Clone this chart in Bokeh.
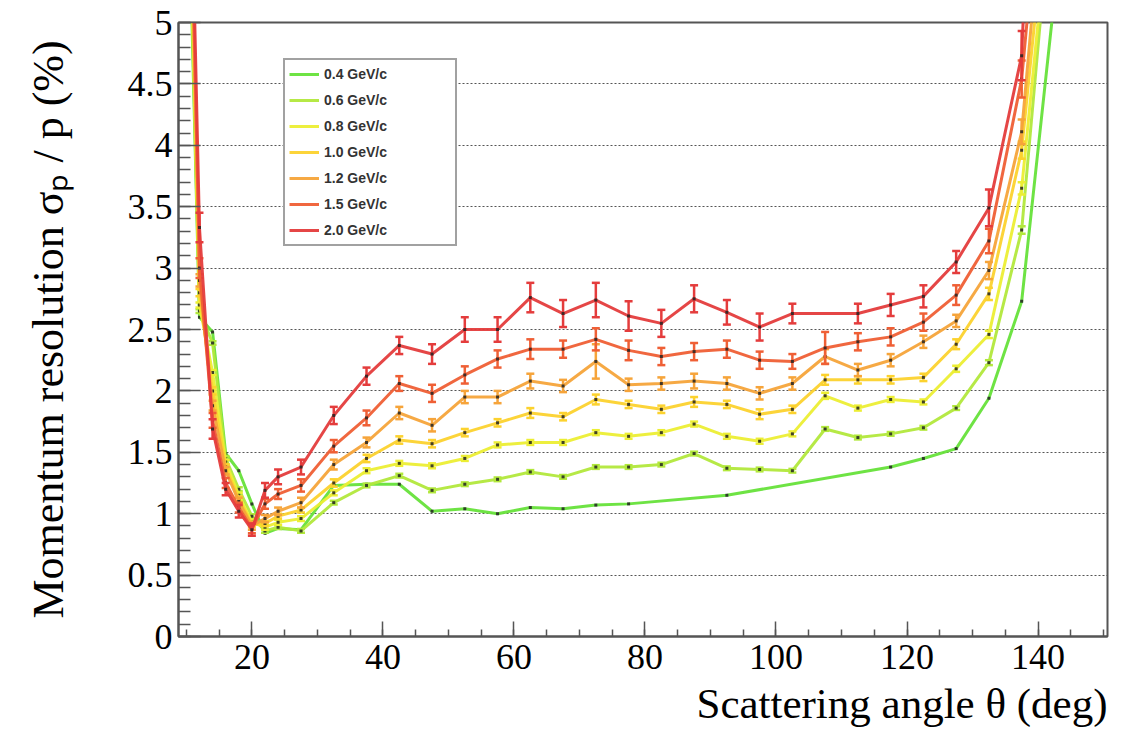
from bokeh.plotting import figure
from bokeh.models import (FixedTicker, Legend, LegendItem, Title, ColumnDataSource, Range1d)
from bokeh.embed import file_html
from bokeh.resources import INLINE

# ---------------- data ----------------
angles = [10, 12, 14, 16, 18, 20, 22, 24, 27.5, 32.5, 37.5, 42.5, 47.5, 52.5, 57.5,
          62.5, 67.5, 72.5, 77.5, 82.5, 87.5, 92.5, 97.5, 102.5, 107.5, 112.5, 117.5,
          122.5, 127.5, 132.5, 137.5, 142.5]

res_04 = [6.8, 2.60, 2.48, 1.49, 1.35, 1.08, 0.84, 0.88, 0.87, 1.23, 1.24, 1.24, 1.02, 1.04, 1.00,
          1.05, 1.04, 1.07, 1.08, None, None, 1.15, None, None, None, None, 1.38,
          1.45, 1.53, 1.94, 2.73, 5.2]
res_06 = [7.0, 2.65, 2.39, 1.45, 1.20, 0.98, 0.86, 0.89, 0.86, 1.09, 1.23, 1.31, 1.19, 1.24, 1.28,
          1.34, 1.30, 1.38, 1.38, 1.40, 1.49, 1.37, 1.36, 1.35, 1.69, 1.62, 1.65,
          1.70, 1.86, 2.23, 3.31, 6.3]
res_08 = [7.2, 2.70, 2.15, 1.42, 1.15, 0.93, 0.89, 0.93, 0.96, 1.17, 1.35, 1.41, 1.39, 1.45, 1.56,
          1.58, 1.58, 1.66, 1.63, 1.66, 1.73, 1.63, 1.59, 1.65, 1.96, 1.86, 1.93,
          1.91, 2.18, 2.46, 3.65, 6.35]
res_10 = [7.4, 2.80, 2.00, 1.38, 1.12, 0.91, 0.92, 0.98, 1.03, 1.25, 1.45, 1.60, 1.57, 1.66, 1.74,
          1.82, 1.79, 1.93, 1.89, 1.85, 1.91, 1.89, 1.81, 1.85, 2.09, 2.09, 2.09,
          2.11, 2.38, 2.79, 3.96, 6.6]
res_12 = [7.6, 2.90, 1.88, 1.35, 1.10, 0.90, 0.96, 1.02, 1.09, 1.40, 1.58, 1.82, 1.72, 1.95, 1.95,
          2.08, 2.04, 2.24, 2.05, 2.06, 2.08, 2.06, 1.98, 2.06, 2.28, 2.17, 2.25,
          2.40, 2.57, 2.98, 4.11, 7.1]
res_15 = [7.8, 3.00, 1.76, 1.25, 1.05, 0.88, 1.08, 1.16, 1.23, 1.55, 1.78, 2.06, 1.98, 2.13, 2.26,
          2.34, 2.34, 2.42, 2.33, 2.28, 2.32, 2.34, 2.25, 2.24, 2.35, 2.40, 2.44,
          2.56, 2.78, 3.22, 4.54, 7.4]
res_20 = [8.0, 3.33, 1.69, 1.20, 1.02, 0.87, 1.19, 1.30, 1.38, 1.80, 2.12, 2.37, 2.30, 2.50, 2.50,
          2.76, 2.63, 2.74, 2.61, 2.55, 2.75, 2.64, 2.52, 2.63, None, 2.63, 2.70,
          2.77, 3.05, 3.49, 4.73, 11.0]

err_04 = [0, 0, 0, 0, 0, 0, 0, 0, 0, 0, 0, 0, 0, 0, 0,
          0, 0, 0, 0, 0, 0, 0, 0, 0, 0, 0, 0,
          0, 0, 0, 0, 0]
err_06 = [0.015, 0.015, 0.015, 0.015, 0.015, 0.015, 0.015, 0.015, 0.015, 0.015, 0.015, 0.015, 0.015, 0.015, 0.015,
          0.015, 0.015, 0.015, 0.015, 0.015, 0.015, 0.015, 0.015, 0.015, 0.015, 0.015, 0.015,
          0.015, 0.015, 0.02, 0.03, 0.03]
err_08 = [0.02, 0.02, 0.02, 0.02, 0.02, 0.02, 0.02, 0.02, 0.02, 0.02, 0.02, 0.02, 0.02, 0.02, 0.02,
          0.02, 0.02, 0.02, 0.02, 0.02, 0.02, 0.02, 0.02, 0.02, 0.025, 0.02, 0.02,
          0.02, 0.025, 0.03, 0.05, 0.05]
err_10 = [0.05, 0.03, 0.03, 0.02, 0.02, 0.02, 0.02, 0.02, 0.02, 0.03, 0.03, 0.03, 0.03, 0.03, 0.03,
          0.04, 0.03, 0.04, 0.03, 0.03, 0.04, 0.03, 0.04, 0.03, 0.04, 0.03, 0.03,
          0.03, 0.04, 0.05, 0.07, 0.07]
err_12 = [0.1, 0.05, 0.04, 0.03, 0.03, 0.03, 0.03, 0.03, 0.04, 0.04, 0.04, 0.05, 0.05, 0.05, 0.05,
          0.06, 0.05, 0.14, 0.05, 0.05, 0.06, 0.05, 0.05, 0.05, 0.06, 0.05, 0.05,
          0.05, 0.05, 0.07, 0.1, 0.1]
err_15 = [0.2, 0.08, 0.06, 0.04, 0.04, 0.04, 0.04, 0.04, 0.05, 0.05, 0.06, 0.06, 0.07, 0.07, 0.07,
          0.08, 0.07, 0.09, 0.08, 0.07, 0.07, 0.07, 0.07, 0.06, 0.13, 0.07, 0.07,
          0.07, 0.08, 0.1, 0.15, 0.2]
err_20 = [0.3, 0.12, 0.08, 0.05, 0.05, 0.05, 0.06, 0.06, 0.06, 0.07, 0.07, 0.07, 0.08, 0.1, 0.1,
          0.12, 0.11, 0.14, 0.12, 0.11, 0.11, 0.1, 0.11, 0.08, 0, 0.08, 0.09,
          0.09, 0.09, 0.15, 0.2, 0.3]

labels = ["0.4 GeV/c", "0.6 GeV/c", "0.8 GeV/c", "1.0 GeV/c", "1.2 GeV/c", "1.5 GeV/c", "2.0 GeV/c"]
colors = ["#66e23a", "#b2e83c", "#ecee34", "#fcd22e", "#f6a43a", "#ef5f35", "#e43c3c"]
values = [res_04, res_06, res_08, res_10, res_12, res_15, res_20]
errors = [err_04, err_06, err_08, err_10, err_12, err_15, err_20]

y_ticks = [0, 0.5, 1, 1.5, 2, 2.5, 3, 3.5, 4, 4.5, 5]
y_tick_labels = ["0", "0.5", "1", "1.5", "2", "2.5", "3", "3.5", "4", "4.5", "5"]
x_ticks = [20, 40, 60, 80, 100, 120, 140]
x_minor = [10, 15, 20, 25, 30, 35, 40, 45, 50, 55, 60, 65, 70, 75, 80, 85, 90, 95, 100,
           105, 110, 115, 120, 125, 130, 135, 140, 145, 150]
y_minor = [i / 10 for i in range(0, 51)]

# ---------------- figure ----------------
SERIF = "Liberation Serif"
p = figure(width=1135, height=740, x_range=Range1d(8.8, 150.6), y_range=Range1d(0, 5),
           output_backend="svg", toolbar_location=None,
           min_border_left=178, min_border_right=28, min_border_top=22, min_border_bottom=104)
p.background_fill_color = "white"
p.border_fill_color = "white"
p.outline_line_color = "#555555"
p.outline_line_width = 2

p.xgrid.visible = False
p.ygrid.ticker = FixedTicker(ticks=y_ticks[1:-1])
p.ygrid.grid_line_color = "#555555"
p.ygrid.grid_line_dash = "2 2"
p.ygrid.grid_line_width = 1.2

p.yaxis.ticker = FixedTicker(ticks=y_ticks, minor_ticks=y_minor)
p.yaxis.major_label_overrides = {t: l for t, l in zip(y_ticks, y_tick_labels)}
p.xaxis.ticker = FixedTicker(ticks=x_ticks, minor_ticks=x_minor)

for ax in (p.xaxis[0], p.yaxis[0]):
    ax.axis_line_color = "#555555"
    ax.axis_line_width = 2
    ax.major_tick_line_color = "#555555"
    ax.minor_tick_line_color = "#555555"
    ax.major_tick_line_width = 1.5
    ax.minor_tick_line_width = 1.5
    ax.major_tick_out = 0
    ax.minor_tick_out = 0
    ax.major_label_text_font = SERIF
    ax.major_label_text_font_size = "36px"
    ax.major_label_text_color = "black"
    ax.axis_label_text_font = SERIF
    ax.axis_label_text_font_style = "normal"
    ax.axis_label_text_color = "black"

p.yaxis.major_tick_in = 22
p.yaxis.minor_tick_in = 12
p.xaxis.major_tick_in = 15
p.xaxis.minor_tick_in = 7
p.yaxis.major_label_standoff = 6
p.xaxis.major_label_standoff = 8
p.yaxis.axis_label = "Momentum resolution σₚ / p (%)"
p.yaxis.axis_label_text_font_size = "44px"
p.yaxis.axis_label_standoff = 52

p.add_layout(Title(text="Scattering angle θ (deg)", align="right", text_font=SERIF,
                   text_font_size="43px", text_font_style="normal", text_color="black",
                   standoff=12), "below")

items = []
for vals, errs, col, lab in zip(values, errors, colors, labels):
    xs = [a for a, v in zip(angles, vals) if v is not None]
    ys = [v for v in vals if v is not None]
    es = [e for e, v in zip(errs, vals) if v is not None]
    src = ColumnDataSource(dict(x=xs, y=ys))
    r = p.line("x", "y", source=src, line_color=col, line_width=3, line_alpha=0.95)
    ex = [x for x, e in zip(xs, es) if e > 0]
    if ex:
        ey = [y for y, e in zip(ys, es) if e > 0]
        ee = [e for e in es if e > 0]
        esrc = ColumnDataSource(dict(x=ex, lo=[y - e for y, e in zip(ey, ee)],
                                     hi=[y + e for y, e in zip(ey, ee)]))
        p.segment(x0="x", y0="lo", x1="x", y1="hi", source=esrc, line_color=col, line_width=2.5)
        p.scatter("x", "lo", source=esrc, marker="dash", size=8, line_color=col, line_width=2.5)
        p.scatter("x", "hi", source=esrc, marker="dash", size=8, line_color=col, line_width=2.5)
    p.scatter("x", "y", source=src, marker="square", size=3, fill_color="#222222",
              line_color=None, fill_alpha=0.85)
    items.append(LegendItem(label=lab, renderers=[r]))

legend = Legend(items=items, location=(105, 390), orientation="vertical",
                glyph_width=30, glyph_height=20, label_height=20, label_width=127,
                spacing=6, padding=4, margin=0, label_standoff=5,
                label_text_font="Liberation Sans", label_text_font_style="bold",
                label_text_font_size="14px", label_text_color="#333333",
                border_line_color="#444444", border_line_width=2,
                background_fill_color="white", background_fill_alpha=1.0)
p.add_layout(legend)

open("out.html", "w").write(file_html(p, INLINE))
